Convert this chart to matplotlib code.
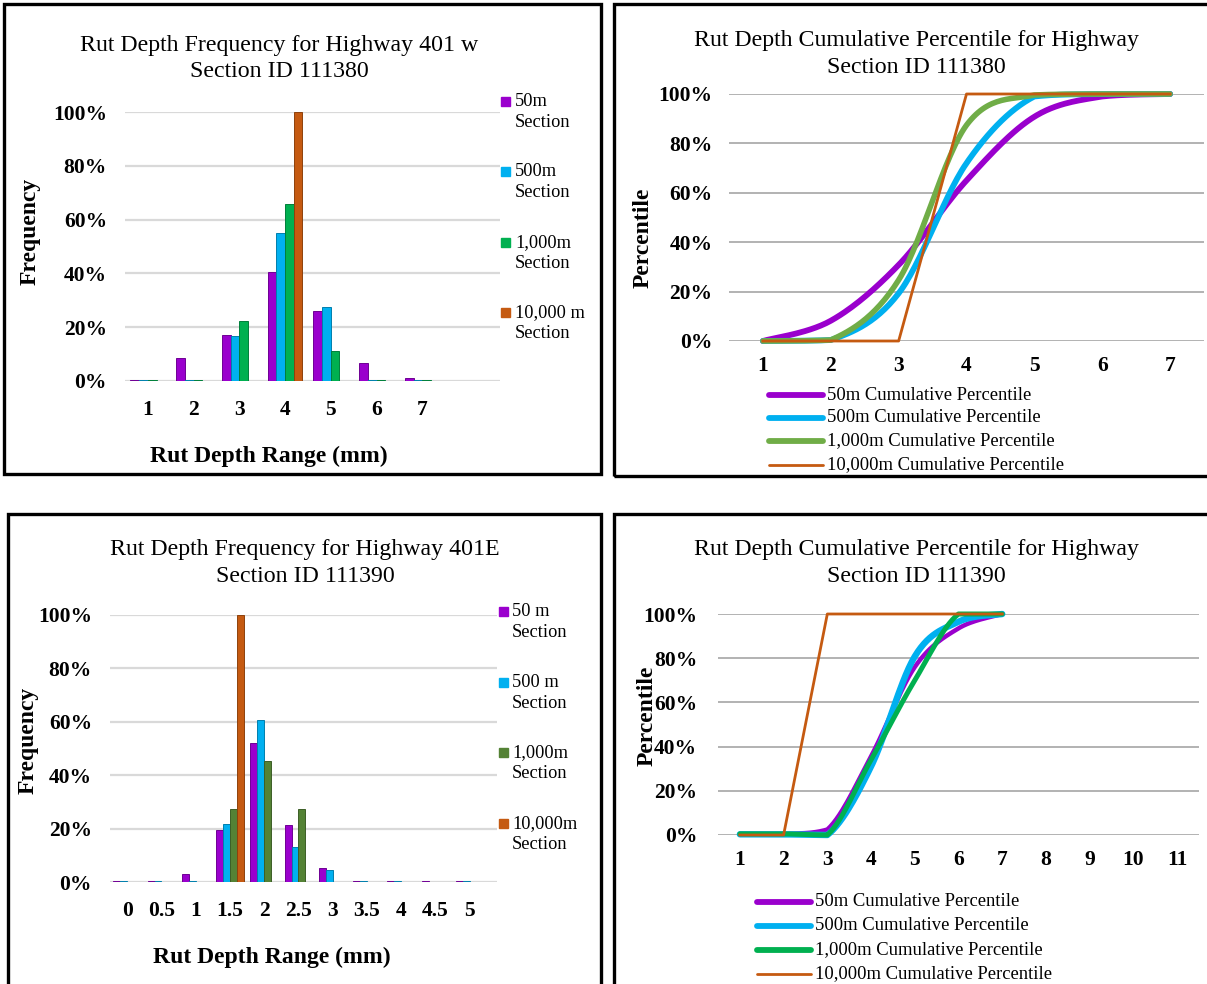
import numpy as np
import matplotlib.pyplot as plt
from matplotlib.patches import Rectangle
from matplotlib.lines import Line2D
from matplotlib.colors import to_rgb

plt.rcParams['font.family'] = ['Liberation Serif', 'DejaVu Serif']

W, H = 1207, 984

# Highway 401 W, section 111380 (frequency per rut depth range)
w_cats = ['1', '2', '3', '4', '5', '6', '7']
w_freq_50 = [0.005, 0.086, 0.172, 0.407, 0.260, 0.068, 0.010]
w_freq_500 = [0.003, 0.003, 0.166, 0.550, 0.276, 0.003, 0.003]
w_freq_1000 = [0.003, 0.003, 0.223, 0.659, 0.113, 0.003, 0.003]
w_freq_10000 = [0, 0, 0, 1.0, 0, 0, 0]

# Highway 401 E, section 111390
e_cats = ['0', '0.5', '1', '1.5', '2', '2.5', '3', '3.5', '4', '4.5', '5']
e_freq_50 = [0.003, 0.003, 0.031, 0.193, 0.519, 0.212, 0.052, 0.003, 0.003, 0.003, 0.003]
e_freq_500 = [0.003, 0.003, 0.003, 0.216, 0.607, 0.131, 0.044, 0.003, 0.003, 0, 0.003]
e_freq_1000 = [0, 0, 0, 0.272, 0.452, 0.272, 0, 0, 0, 0, 0]
e_freq_10000 = [0, 0, 0, 1.0, 0, 0, 0, 0, 0, 0, 0]

# cumulative percentiles
w_cum_x = [1, 2, 3, 4, 5, 6, 7]
w_cum_50 = [0.0, 0.082, 0.308, 0.650, 0.908, 0.990, 1.0]
w_cum_500 = [0.0, 0.004, 0.193, 0.720, 0.990, 1.0, 1.0]
w_cum_1000 = [0.0, 0.004, 0.247, 0.874, 0.996, 1.0, 1.0]
w_cum_10000 = [0, 0, 0, 1, 1, 1, 1]

e_cum_x = [1, 2, 3, 4, 5, 6, 7]
e_cum_50 = [0.005, 0.005, 0.025, 0.356, 0.760, 0.935, 1.0]
e_cum_500 = [0.003, 0.003, 0.0, 0.310, 0.808, 0.965, 1.0]
e_cum_1000 = [0.005, 0.005, 0.0, 0.340, 0.700, 1.0, 1.0]
e_cum_10000 = [0, 0, 1, 1, 1, 1, 1]

pct_ticks = [0, 0.2, 0.4, 0.6, 0.8, 1.0]
pct_labels = ['0%', '20%', '40%', '60%', '80%', '100%']

purple = '#9A00CD'
cyan = '#00B0F0'
orange = '#C55A11'

fig = plt.figure(figsize=(W / 100, H / 100), dpi=100)


def fx(x):
    return x / W


def fy(y):
    return 1 - y / H


def px_axes(l, t, r, b):
    return fig.add_axes([fx(l), fy(b), (r - l) / W, (b - t) / H])


def box(l, t, r, b):
    fig.add_artist(Rectangle((fx(l), fy(b)), (r - l) / W, (b - t) / H, fill=False,
                             lw=2.4, ec='black', transform=fig.transFigure))


def smooth(x, y, n=30):
    # excel-style smoothed line (bezier through the points, control points kept in range)
    P = np.column_stack([x, y]).astype(float)
    Q = np.vstack([P[0], P, P[-1]])
    t = np.linspace(0, 1, n)[:, None]
    out = []
    for i in range(1, len(P)):
        p0, p3 = Q[i], Q[i + 1]
        c1 = p0 + (Q[i + 1] - Q[i - 1]) / 6
        c2 = p3 - (Q[i + 2] - Q[i]) / 6
        lo, hi = min(p0[1], p3[1]), max(p0[1], p3[1])
        c1[1] = np.clip(c1[1], lo, hi)
        c2[1] = np.clip(c2[1], lo, hi)
        seg = (1 - t) ** 3 * p0 + 3 * (1 - t) ** 2 * t * c1 + 3 * (1 - t) * t ** 2 * c2 + t ** 3 * p3
        out.append(seg)
    out = np.vstack(out)
    return out[:, 0], out[:, 1]


def style_axes(ax, grid_color, grid_lw, ypad, xpad):
    for s in ax.spines.values():
        s.set_visible(False)
    ax.set_ylim(0, 1)
    ax.set_yticks(pct_ticks)
    ax.set_yticklabels(pct_labels)
    ax.tick_params(length=0, labelsize=15.5)
    ax.tick_params(axis='y', pad=ypad)
    ax.tick_params(axis='x', pad=xpad)
    for lab in ax.get_xticklabels() + ax.get_yticklabels():
        lab.set_fontweight('bold')
    ax.yaxis.grid(True, color=grid_color, lw=grid_lw)
    ax.set_axisbelow(True)


def bar_panel(ax, cats, series, colors, width):
    x = np.arange(len(cats))
    for i, (vals, c) in enumerate(zip(series, colors)):
        dark = tuple(np.array(to_rgb(c)) * 0.72)
        ax.bar(x + (i - 1.5) * width, vals, width=width, color=c, edgecolor=dark, lw=0.7)
    ax.set_xticks(x)
    ax.set_xticklabels(cats)


def bar_legend(x_sq, x_txt, rows, labels, colors):
    for y, lab, c in zip(rows, labels, colors):
        fig.add_artist(Rectangle((fx(x_sq), fy(y + 4.5)), 9 / W, 9 / H, color=c,
                                 transform=fig.transFigure))
        fig.text(fx(x_txt), fy(y - 8), lab, ha='left', va='top', fontsize=13.2,
                 linespacing=1.28)


def line_legend(x0, x1, x_txt, rows, labels, colors, widths):
    for y, lab, c, lw in zip(rows, labels, colors, widths):
        fig.add_artist(Line2D([fx(x0), fx(x1)], [fy(y), fy(y)], color=c, lw=lw,
                              solid_capstyle='round', transform=fig.transFigure))
        fig.text(fx(x_txt), fy(y), lab, ha='left', va='center', fontsize=13.4)


# panel frames
box(4, 4, 601, 474)
box(614, 4, 1215, 476)
box(8, 514, 601, 995)
box(614, 514, 1215, 995)

# ---- top left: frequency 401 W
ax1 = px_axes(125, 112, 500, 381)
bar_panel(ax1, w_cats, [w_freq_50, w_freq_500, w_freq_1000, w_freq_10000],
          [purple, cyan, '#00B050', orange], 0.19)
ax1.set_xlim(-0.5, 7.7)
style_axes(ax1, '#D9D9D9', 1.6, 13, 13.5)
fig.text(fx(279), fy(58.5), 'Rut Depth Frequency for Highway 401 w\nSection ID 111380',
         ha='center', va='center', fontsize=17.2, linespacing=1.32)
fig.text(fx(30), fy(231), 'Frequency', rotation=90, ha='center', va='center',
         fontsize=17, fontweight='bold')
fig.text(fx(269), fy(456), 'Rut Depth Range (mm)', ha='center', va='center',
         fontsize=17, fontweight='bold')
bar_legend(501, 515, [101, 171, 242, 312],
           ['50m\nSection', '500m\nSection', '1,000m\nSection', '10,000 m\nSection'],
           [purple, cyan, '#00B050', orange])

# ---- bottom left: frequency 401 E
ax3 = px_axes(110, 615, 497, 882)
bar_panel(ax3, e_cats, [e_freq_50, e_freq_500, e_freq_1000, e_freq_10000],
          [purple, cyan, '#548235', orange], 0.2)
ax3.set_xlim(-0.5, 10.8)
style_axes(ax3, '#D9D9D9', 1.6, 13, 14)
fig.text(fx(305), fy(563), 'Rut Depth Frequency for Highway 401E\nSection ID 111390',
         ha='center', va='center', fontsize=17.2, linespacing=1.32)
fig.text(fx(28), fy(740), 'Frequency', rotation=90, ha='center', va='center',
         fontsize=17, fontweight='bold')
fig.text(fx(272), fy(957), 'Rut Depth Range (mm)', ha='center', va='center',
         fontsize=17, fontweight='bold')
bar_legend(499, 512, [611, 682, 752, 823],
           ['50 m\nSection', '500 m\nSection', '1,000m\nSection', '10,000m\nSection'],
           [purple, cyan, '#548235', orange])

# ---- top right: cumulative 401 W
ax2 = px_axes(729, 94, 1204, 341)
for vals, c, lw in [(w_cum_50, purple, 4.2), (w_cum_500, cyan, 4.2), (w_cum_1000, '#70AD47', 4.0)]:
    sx, sy = smooth(w_cum_x, vals)
    ax2.plot(sx, sy, color=c, lw=lw, solid_capstyle='round', clip_on=False)
ax2.plot(w_cum_x, w_cum_10000, color=orange, lw=2.0, clip_on=False)
ax2.set_xlim(0.5, 7.5)
ax2.set_xticks(w_cum_x)
style_axes(ax2, '#A6A6A6', 1.2, 12, 11)
fig.text(fx(916), fy(54), 'Rut Depth Cumulative Percentile for Highway\nSection ID 111380',
         ha='center', va='center', fontsize=17.2, linespacing=1.32)
fig.text(fx(643), fy(238), 'Percentile', rotation=90, ha='center', va='center',
         fontsize=17, fontweight='bold')
line_legend(769, 823, 827, [395, 418, 441, 465],
            ['50m Cumulative Percentile', '500m Cumulative Percentile',
             '1,000m Cumulative Percentile', '10,000m Cumulative Percentile'],
            [purple, cyan, '#70AD47', orange], [4.2, 4.2, 4.2, 2.0])

# ---- bottom right: cumulative 401 E
ax4 = px_axes(718, 614, 1199, 835)
for vals, c, lw in [(e_cum_50, purple, 3.2), (e_cum_500, cyan, 4.6), (e_cum_1000, '#00B050', 3.6)]:
    sx, sy = smooth(e_cum_x, vals)
    ax4.plot(sx, sy, color=c, lw=lw, solid_capstyle='round', clip_on=False)
ax4.plot(e_cum_x, e_cum_10000, color=orange, lw=2.0, clip_on=False)
ax4.set_xlim(0.5, 11.5)
ax4.set_xticks(range(1, 12))
style_axes(ax4, '#A6A6A6', 1.2, 15, 11)
fig.text(fx(916), fy(563), 'Rut Depth Cumulative Percentile for Highway\nSection ID 111390',
         ha='center', va='center', fontsize=17.2, linespacing=1.32)
fig.text(fx(647), fy(716), 'Percentile', rotation=90, ha='center', va='center',
         fontsize=17, fontweight='bold')
line_legend(757, 811, 815, [902, 926, 950, 974],
            ['50m Cumulative Percentile', '500m Cumulative Percentile',
             '1,000m Cumulative Percentile', '10,000m Cumulative Percentile'],
            [purple, cyan, '#00B050', orange], [4.2, 4.2, 4.2, 2.0])

fig.savefig('out.png', dpi=100)
